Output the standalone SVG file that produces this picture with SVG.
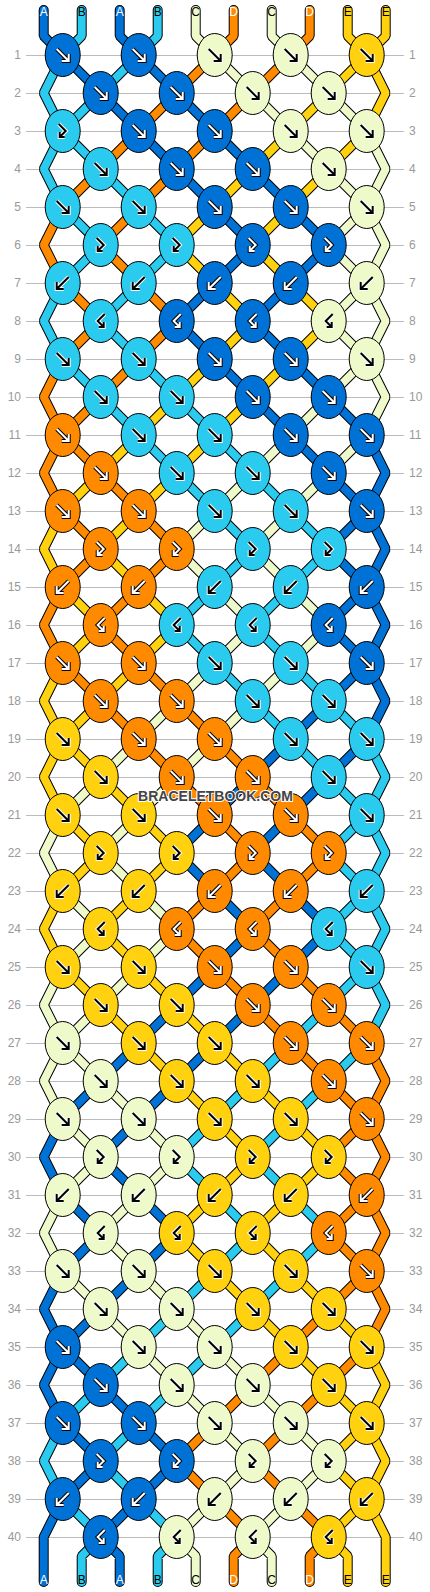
<svg xmlns="http://www.w3.org/2000/svg" xmlns:xlink="http://www.w3.org/1999/xlink" width="430" height="1592" viewBox="0 0 430 1592">
<style>
.o{fill:none;stroke:#000;stroke-width:10;stroke-linecap:round;stroke-linejoin:bevel}
.f{fill:none;stroke-width:8;stroke-linecap:round;stroke-linejoin:bevel}
.A{stroke:#0072D5}.B{stroke:#2BCBEF}.C{stroke:#EFFACB}.D{stroke:#FF8A00}.E{stroke:#FFD10F}
.rl{fill:none;stroke:#bbb;stroke-width:1}
.nl{font-family:"Liberation Sans",Arial,sans-serif;font-size:12px;fill:#999;text-anchor:end}
.nr{font-family:"Liberation Sans",Arial,sans-serif;font-size:12px;fill:#999;text-anchor:start}
.lb{font-family:"Liberation Sans",Arial,sans-serif;font-size:12px;text-anchor:middle}
.wt{fill:#fff}.bt{fill:#000}
</style>
<defs>
<ellipse id="e" rx="17.5" ry="21.5" stroke="#000" stroke-width="1"/>
<path id="pF" d="M-6,-6L6,6M6,-1V6H-1" fill="none"/>
<path id="pB" d="M6,-6L-6,6M-6,-1V6H1" fill="none"/>
<path id="pX" d="M-4,-7L3,0L-3,6M-3,1V6H2" fill="none"/>
<path id="pY" d="M4,-7L-3,0L3,6M3,1V6H-2" fill="none"/>
<g id="wF"><use href="#pF" stroke="#000" stroke-width="4"/><use href="#pF" stroke="#fff" stroke-width="2"/></g>
<g id="wB"><use href="#pB" stroke="#000" stroke-width="4"/><use href="#pB" stroke="#fff" stroke-width="2"/></g>
<g id="wX"><use href="#pX" stroke="#000" stroke-width="4"/><use href="#pX" stroke="#fff" stroke-width="2"/></g>
<g id="wY"><use href="#pY" stroke="#000" stroke-width="4"/><use href="#pY" stroke="#fff" stroke-width="2"/></g>
<g id="kF"><use href="#pF" stroke="#fff" stroke-width="4"/><use href="#pF" stroke="#000" stroke-width="2"/></g>
<g id="kB"><use href="#pB" stroke="#fff" stroke-width="4"/><use href="#pB" stroke="#000" stroke-width="2"/></g>
<g id="kX"><use href="#pX" stroke="#fff" stroke-width="4"/><use href="#pX" stroke="#000" stroke-width="2"/></g>
<g id="kY"><use href="#pY" stroke="#fff" stroke-width="4"/><use href="#pY" stroke="#000" stroke-width="2"/></g>
<g id="AF"><use href="#e" fill="#0072D5"/><use href="#wF"/></g>
<g id="AB"><use href="#e" fill="#0072D5"/><use href="#wB"/></g>
<g id="AX"><use href="#e" fill="#0072D5"/><use href="#wX"/></g>
<g id="AY"><use href="#e" fill="#0072D5"/><use href="#wY"/></g>
<g id="BF"><use href="#e" fill="#2BCBEF"/><use href="#kF"/></g>
<g id="BB"><use href="#e" fill="#2BCBEF"/><use href="#kB"/></g>
<g id="BX"><use href="#e" fill="#2BCBEF"/><use href="#kX"/></g>
<g id="BY"><use href="#e" fill="#2BCBEF"/><use href="#kY"/></g>
<g id="CF"><use href="#e" fill="#EFFACB"/><use href="#kF"/></g>
<g id="CB"><use href="#e" fill="#EFFACB"/><use href="#kB"/></g>
<g id="CX"><use href="#e" fill="#EFFACB"/><use href="#kX"/></g>
<g id="CY"><use href="#e" fill="#EFFACB"/><use href="#kY"/></g>
<g id="DF"><use href="#e" fill="#FF8A00"/><use href="#wF"/></g>
<g id="DB"><use href="#e" fill="#FF8A00"/><use href="#wB"/></g>
<g id="DX"><use href="#e" fill="#FF8A00"/><use href="#wX"/></g>
<g id="DY"><use href="#e" fill="#FF8A00"/><use href="#wY"/></g>
<g id="EF"><use href="#e" fill="#FFD10F"/><use href="#kF"/></g>
<g id="EB"><use href="#e" fill="#FFD10F"/><use href="#kB"/></g>
<g id="EX"><use href="#e" fill="#FFD10F"/><use href="#kX"/></g>
<g id="EY"><use href="#e" fill="#FFD10F"/><use href="#kY"/></g>
<path id="s0" d="M-19,-45v26l19,19 38,38 38,38 38,38 38,38 38,38 -38,38 -38,38 38,38 38,38 38,38 38,38 38,38 19,38 -19,38 -38,38 38,38 19,38 -19,38 -38,38 -38,38 -38,38 38,38 38,38 -38,38 -38,38 -38,38 -38,38 -38,38 -38,38 38,38 38,38 -38,38 -38,38 -38,38 -19,38 19,38 38,38 -38,38 -19,38v45"/>
<path id="s1" d="M19,-45v26l-19,19 -19,38 19,38 -19,38 19,38 38,38 -38,38 -19,38 19,38 38,38 38,38 38,38 38,38 38,38 -38,38 -38,38 38,38 38,38 38,38 38,38 38,38 19,38 -19,38 -38,38 38,38 19,38 -19,38 -38,38 -38,38 -38,38 38,38 38,38 -38,38 -38,38 -38,38 -38,38 -38,38 -38,38 38,38 38,38 -19,19v26"/>
<path id="s2" d="M57,-45v26l19,19 38,38 38,38 38,38 38,38 38,38 -38,38 -38,38 38,38 38,38 38,38 19,38 -19,38 -38,38 38,38 19,38 -19,38 -38,38 -38,38 -38,38 -38,38 -38,38 38,38 38,38 -38,38 -38,38 -38,38 -38,38 -38,38 -19,38 19,38 38,38 -38,38 -19,38 19,38 38,38 38,38 38,38 -38,38 -38,38 19,19v26"/>
<path id="s3" d="M95,-45v26l-19,19 -38,38 -38,38 38,38 38,38 38,38 -38,38 -38,38 38,38 38,38 38,38 38,38 38,38 38,38 -38,38 -38,38 38,38 38,38 38,38 19,38 -19,38 -38,38 38,38 19,38 -19,38 -38,38 -38,38 -38,38 -38,38 -38,38 38,38 38,38 -38,38 -38,38 -38,38 -38,38 -38,38 -19,38 19,38 38,38 -19,19v26"/>
<path id="s4" d="M133,-45v26l19,19 38,38 38,38 38,38 38,38 19,38 -19,38 -38,38 38,38 19,38 -19,38 -38,38 -38,38 -38,38 38,38 38,38 -38,38 -38,38 -38,38 -38,38 -38,38 -38,38 38,38 38,38 -38,38 -38,38 -38,38 -19,38 19,38 38,38 -38,38 -19,38 19,38 38,38 38,38 38,38 38,38 38,38 -38,38 -38,38 19,19v26"/>
<path id="s5" d="M171,-45v26l-19,19 -38,38 -38,38 -38,38 -38,38 -19,38 19,38 38,38 -38,38 -19,38 19,38 38,38 38,38 38,38 -38,38 -38,38 38,38 38,38 38,38 38,38 38,38 38,38 -38,38 -38,38 38,38 38,38 38,38 19,38 -19,38 -38,38 38,38 19,38 -19,38 -38,38 -38,38 -38,38 -38,38 -38,38 38,38 38,38 -19,19v26"/>
<path id="s6" d="M209,-45v26l19,19 38,38 38,38 19,38 -19,38 -38,38 38,38 19,38 -19,38 -38,38 -38,38 -38,38 -38,38 -38,38 38,38 38,38 -38,38 -38,38 -38,38 -38,38 -38,38 -19,38 19,38 38,38 -38,38 -19,38 19,38 38,38 38,38 38,38 -38,38 -38,38 38,38 38,38 38,38 38,38 38,38 38,38 -38,38 -38,38 19,19v26"/>
<path id="s7" d="M247,-45v26l-19,19 -38,38 -38,38 -38,38 -38,38 -38,38 38,38 38,38 -38,38 -38,38 -38,38 -19,38 19,38 38,38 -38,38 -19,38 19,38 38,38 38,38 38,38 38,38 38,38 -38,38 -38,38 38,38 38,38 38,38 38,38 38,38 19,38 -19,38 -38,38 38,38 19,38 -19,38 -38,38 -38,38 -38,38 38,38 38,38 -19,19v26"/>
<path id="s8" d="M285,-45v26l19,19 19,38 -19,38 -38,38 -38,38 -38,38 38,38 38,38 -38,38 -38,38 -38,38 -38,38 -38,38 -38,38 38,38 38,38 -38,38 -38,38 -38,38 -19,38 19,38 38,38 -38,38 -19,38 19,38 38,38 38,38 38,38 38,38 38,38 -38,38 -38,38 38,38 38,38 38,38 38,38 38,38 19,38 -19,38 -38,38 19,19v26"/>
<path id="s9" d="M323,-45v26l-19,19 -38,38 -38,38 -38,38 -38,38 -38,38 38,38 38,38 -38,38 -38,38 -38,38 -38,38 -38,38 -19,38 19,38 38,38 -38,38 -19,38 19,38 38,38 38,38 38,38 -38,38 -38,38 38,38 38,38 38,38 38,38 38,38 38,38 -38,38 -38,38 38,38 38,38 38,38 19,38 -19,38 -38,38 38,38 19,38v45"/>
</defs>
<rect width="430" height="1592" fill="#fff"/>
<g id="grid">
<path class="rl" d="M26,55.5H404M26,93.5H404M26,131.5H404M26,169.5H404M26,207.5H404M26,245.5H404M26,283.5H404M26,321.5H404M26,359.5H404M26,397.5H404M26,435.5H404M26,473.5H404M26,511.5H404M26,549.5H404M26,587.5H404M26,625.5H404M26,663.5H404M26,701.5H404M26,739.5H404M26,777.5H404M26,815.5H404M26,853.5H404M26,891.5H404M26,929.5H404M26,967.5H404M26,1005.5H404M26,1043.5H404M26,1081.5H404M26,1119.5H404M26,1157.5H404M26,1195.5H404M26,1233.5H404M26,1271.5H404M26,1309.5H404M26,1347.5H404M26,1385.5H404M26,1423.5H404M26,1461.5H404M26,1499.5H404M26,1537.5H404"/>
</g>
<g id="rownums-left" class="nl">
<text x="21" y="59">1</text><text x="21" y="97">2</text><text x="21" y="135">3</text><text x="21" y="173">4</text><text x="21" y="211">5</text><text x="21" y="249">6</text><text x="21" y="287">7</text><text x="21" y="325">8</text><text x="21" y="363">9</text><text x="21" y="401">10</text><text x="21" y="439">11</text><text x="21" y="477">12</text><text x="21" y="515">13</text><text x="21" y="553">14</text><text x="21" y="591">15</text><text x="21" y="629">16</text><text x="21" y="667">17</text><text x="21" y="705">18</text><text x="21" y="743">19</text><text x="21" y="781">20</text><text x="21" y="819">21</text><text x="21" y="857">22</text><text x="21" y="895">23</text><text x="21" y="933">24</text><text x="21" y="971">25</text><text x="21" y="1009">26</text><text x="21" y="1047">27</text><text x="21" y="1085">28</text><text x="21" y="1123">29</text><text x="21" y="1161">30</text><text x="21" y="1199">31</text><text x="21" y="1237">32</text><text x="21" y="1275">33</text><text x="21" y="1313">34</text><text x="21" y="1351">35</text><text x="21" y="1389">36</text><text x="21" y="1427">37</text><text x="21" y="1465">38</text><text x="21" y="1503">39</text><text x="21" y="1541">40</text>
</g>
<g id="rownums-right" class="nr">
<text x="409" y="59">1</text><text x="409" y="97">2</text><text x="409" y="135">3</text><text x="409" y="173">4</text><text x="409" y="211">5</text><text x="409" y="249">6</text><text x="409" y="287">7</text><text x="409" y="325">8</text><text x="409" y="363">9</text><text x="409" y="401">10</text><text x="409" y="439">11</text><text x="409" y="477">12</text><text x="409" y="515">13</text><text x="409" y="553">14</text><text x="409" y="591">15</text><text x="409" y="629">16</text><text x="409" y="667">17</text><text x="409" y="705">18</text><text x="409" y="743">19</text><text x="409" y="781">20</text><text x="409" y="819">21</text><text x="409" y="857">22</text><text x="409" y="895">23</text><text x="409" y="933">24</text><text x="409" y="971">25</text><text x="409" y="1009">26</text><text x="409" y="1047">27</text><text x="409" y="1085">28</text><text x="409" y="1123">29</text><text x="409" y="1161">30</text><text x="409" y="1199">31</text><text x="409" y="1237">32</text><text x="409" y="1275">33</text><text x="409" y="1313">34</text><text x="409" y="1351">35</text><text x="409" y="1389">36</text><text x="409" y="1427">37</text><text x="409" y="1465">38</text><text x="409" y="1503">39</text><text x="409" y="1541">40</text>
</g>
<g id="strings" transform="translate(62.7 55)">
<use href="#s0" class="o"/><use href="#s0" class="f A"/>
<use href="#s1" class="o"/><use href="#s1" class="f B"/>
<use href="#s2" class="o"/><use href="#s2" class="f A"/>
<use href="#s3" class="o"/><use href="#s3" class="f B"/>
<use href="#s4" class="o"/><use href="#s4" class="f C"/>
<use href="#s5" class="o"/><use href="#s5" class="f D"/>
<use href="#s6" class="o"/><use href="#s6" class="f C"/>
<use href="#s7" class="o"/><use href="#s7" class="f D"/>
<use href="#s8" class="o"/><use href="#s8" class="f E"/>
<use href="#s9" class="o"/><use href="#s9" class="f E"/>
</g>
<g id="labels-top" class="lb">
<text x="43.7" y="16" class="wt">A</text><text x="81.7" y="16" class="bt">B</text><text x="119.7" y="16" class="wt">A</text><text x="157.7" y="16" class="bt">B</text><text x="195.7" y="16" class="bt">C</text><text x="233.7" y="16" class="wt">D</text><text x="271.7" y="16" class="bt">C</text><text x="309.7" y="16" class="wt">D</text><text x="347.7" y="16" class="bt">E</text><text x="385.7" y="16" class="bt">E</text>
</g>
<g id="labels-bottom" class="lb">
<text x="43.7" y="1584" class="wt">A</text><text x="81.7" y="1584" class="bt">B</text><text x="119.7" y="1584" class="wt">A</text><text x="157.7" y="1584" class="bt">B</text><text x="195.7" y="1584" class="bt">C</text><text x="233.7" y="1584" class="wt">D</text><text x="271.7" y="1584" class="bt">C</text><text x="309.7" y="1584" class="wt">D</text><text x="347.7" y="1584" class="bt">E</text><text x="385.7" y="1584" class="bt">E</text>
</g>
<g id="knots" transform="translate(62.7 55)">
<g id="k1-1"><use href="#AF" x="0" y="0"/></g><g id="k1-2"><use href="#AF" x="76" y="0"/></g><g id="k1-3"><use href="#CF" x="152" y="0"/></g><g id="k1-4"><use href="#CF" x="228" y="0"/></g><g id="k1-5"><use href="#EF" x="304" y="0"/></g>
<g id="k2-1"><use href="#AF" x="38" y="38"/></g><g id="k2-2"><use href="#AF" x="114" y="38"/></g><g id="k2-3"><use href="#CF" x="190" y="38"/></g><g id="k2-4"><use href="#CF" x="266" y="38"/></g>
<g id="k3-1"><use href="#BX" x="0" y="76"/></g><g id="k3-2"><use href="#AF" x="76" y="76"/></g><g id="k3-3"><use href="#AF" x="152" y="76"/></g><g id="k3-4"><use href="#CF" x="228" y="76"/></g><g id="k3-5"><use href="#CF" x="304" y="76"/></g>
<g id="k4-1"><use href="#BF" x="38" y="114"/></g><g id="k4-2"><use href="#AF" x="114" y="114"/></g><g id="k4-3"><use href="#AF" x="190" y="114"/></g><g id="k4-4"><use href="#CF" x="266" y="114"/></g>
<g id="k5-1"><use href="#BF" x="0" y="152"/></g><g id="k5-2"><use href="#BF" x="76" y="152"/></g><g id="k5-3"><use href="#AF" x="152" y="152"/></g><g id="k5-4"><use href="#AF" x="228" y="152"/></g><g id="k5-5"><use href="#CF" x="304" y="152"/></g>
<g id="k6-1"><use href="#BX" x="38" y="190"/></g><g id="k6-2"><use href="#BX" x="114" y="190"/></g><g id="k6-3"><use href="#AX" x="190" y="190"/></g><g id="k6-4"><use href="#AX" x="266" y="190"/></g>
<g id="k7-1"><use href="#BB" x="0" y="228"/></g><g id="k7-2"><use href="#BB" x="76" y="228"/></g><g id="k7-3"><use href="#AB" x="152" y="228"/></g><g id="k7-4"><use href="#AB" x="228" y="228"/></g><g id="k7-5"><use href="#CB" x="304" y="228"/></g>
<g id="k8-1"><use href="#BY" x="38" y="266"/></g><g id="k8-2"><use href="#AY" x="114" y="266"/></g><g id="k8-3"><use href="#AY" x="190" y="266"/></g><g id="k8-4"><use href="#CY" x="266" y="266"/></g>
<g id="k9-1"><use href="#BF" x="0" y="304"/></g><g id="k9-2"><use href="#BF" x="76" y="304"/></g><g id="k9-3"><use href="#AF" x="152" y="304"/></g><g id="k9-4"><use href="#AF" x="228" y="304"/></g><g id="k9-5"><use href="#CF" x="304" y="304"/></g>
<g id="k10-1"><use href="#BF" x="38" y="342"/></g><g id="k10-2"><use href="#BF" x="114" y="342"/></g><g id="k10-3"><use href="#AF" x="190" y="342"/></g><g id="k10-4"><use href="#AF" x="266" y="342"/></g>
<g id="k11-1"><use href="#DF" x="0" y="380"/></g><g id="k11-2"><use href="#BF" x="76" y="380"/></g><g id="k11-3"><use href="#BF" x="152" y="380"/></g><g id="k11-4"><use href="#AF" x="228" y="380"/></g><g id="k11-5"><use href="#AF" x="304" y="380"/></g>
<g id="k12-1"><use href="#DF" x="38" y="418"/></g><g id="k12-2"><use href="#BF" x="114" y="418"/></g><g id="k12-3"><use href="#BF" x="190" y="418"/></g><g id="k12-4"><use href="#AF" x="266" y="418"/></g>
<g id="k13-1"><use href="#DF" x="0" y="456"/></g><g id="k13-2"><use href="#DF" x="76" y="456"/></g><g id="k13-3"><use href="#BF" x="152" y="456"/></g><g id="k13-4"><use href="#BF" x="228" y="456"/></g><g id="k13-5"><use href="#AF" x="304" y="456"/></g>
<g id="k14-1"><use href="#DX" x="38" y="494"/></g><g id="k14-2"><use href="#DX" x="114" y="494"/></g><g id="k14-3"><use href="#BX" x="190" y="494"/></g><g id="k14-4"><use href="#BX" x="266" y="494"/></g>
<g id="k15-1"><use href="#DB" x="0" y="532"/></g><g id="k15-2"><use href="#DB" x="76" y="532"/></g><g id="k15-3"><use href="#BB" x="152" y="532"/></g><g id="k15-4"><use href="#BB" x="228" y="532"/></g><g id="k15-5"><use href="#AB" x="304" y="532"/></g>
<g id="k16-1"><use href="#DY" x="38" y="570"/></g><g id="k16-2"><use href="#BY" x="114" y="570"/></g><g id="k16-3"><use href="#BY" x="190" y="570"/></g><g id="k16-4"><use href="#AY" x="266" y="570"/></g>
<g id="k17-1"><use href="#DF" x="0" y="608"/></g><g id="k17-2"><use href="#DF" x="76" y="608"/></g><g id="k17-3"><use href="#BF" x="152" y="608"/></g><g id="k17-4"><use href="#BF" x="228" y="608"/></g><g id="k17-5"><use href="#AF" x="304" y="608"/></g>
<g id="k18-1"><use href="#DF" x="38" y="646"/></g><g id="k18-2"><use href="#DF" x="114" y="646"/></g><g id="k18-3"><use href="#BF" x="190" y="646"/></g><g id="k18-4"><use href="#BF" x="266" y="646"/></g>
<g id="k19-1"><use href="#EF" x="0" y="684"/></g><g id="k19-2"><use href="#DF" x="76" y="684"/></g><g id="k19-3"><use href="#DF" x="152" y="684"/></g><g id="k19-4"><use href="#BF" x="228" y="684"/></g><g id="k19-5"><use href="#BF" x="304" y="684"/></g>
<g id="k20-1"><use href="#EF" x="38" y="722"/></g><g id="k20-2"><use href="#DF" x="114" y="722"/></g><g id="k20-3"><use href="#DF" x="190" y="722"/></g><g id="k20-4"><use href="#BF" x="266" y="722"/></g>
<g id="k21-1"><use href="#EF" x="0" y="760"/></g><g id="k21-2"><use href="#EF" x="76" y="760"/></g><g id="k21-3"><use href="#DF" x="152" y="760"/></g><g id="k21-4"><use href="#DF" x="228" y="760"/></g><g id="k21-5"><use href="#BF" x="304" y="760"/></g>
<g id="k22-1"><use href="#EX" x="38" y="798"/></g><g id="k22-2"><use href="#EX" x="114" y="798"/></g><g id="k22-3"><use href="#DX" x="190" y="798"/></g><g id="k22-4"><use href="#DX" x="266" y="798"/></g>
<g id="k23-1"><use href="#EB" x="0" y="836"/></g><g id="k23-2"><use href="#EB" x="76" y="836"/></g><g id="k23-3"><use href="#DB" x="152" y="836"/></g><g id="k23-4"><use href="#DB" x="228" y="836"/></g><g id="k23-5"><use href="#BB" x="304" y="836"/></g>
<g id="k24-1"><use href="#EY" x="38" y="874"/></g><g id="k24-2"><use href="#DY" x="114" y="874"/></g><g id="k24-3"><use href="#DY" x="190" y="874"/></g><g id="k24-4"><use href="#BY" x="266" y="874"/></g>
<g id="k25-1"><use href="#EF" x="0" y="912"/></g><g id="k25-2"><use href="#EF" x="76" y="912"/></g><g id="k25-3"><use href="#DF" x="152" y="912"/></g><g id="k25-4"><use href="#DF" x="228" y="912"/></g><g id="k25-5"><use href="#BF" x="304" y="912"/></g>
<g id="k26-1"><use href="#EF" x="38" y="950"/></g><g id="k26-2"><use href="#EF" x="114" y="950"/></g><g id="k26-3"><use href="#DF" x="190" y="950"/></g><g id="k26-4"><use href="#DF" x="266" y="950"/></g>
<g id="k27-1"><use href="#CF" x="0" y="988"/></g><g id="k27-2"><use href="#EF" x="76" y="988"/></g><g id="k27-3"><use href="#EF" x="152" y="988"/></g><g id="k27-4"><use href="#DF" x="228" y="988"/></g><g id="k27-5"><use href="#DF" x="304" y="988"/></g>
<g id="k28-1"><use href="#CF" x="38" y="1026"/></g><g id="k28-2"><use href="#EF" x="114" y="1026"/></g><g id="k28-3"><use href="#EF" x="190" y="1026"/></g><g id="k28-4"><use href="#DF" x="266" y="1026"/></g>
<g id="k29-1"><use href="#CF" x="0" y="1064"/></g><g id="k29-2"><use href="#CF" x="76" y="1064"/></g><g id="k29-3"><use href="#EF" x="152" y="1064"/></g><g id="k29-4"><use href="#EF" x="228" y="1064"/></g><g id="k29-5"><use href="#DF" x="304" y="1064"/></g>
<g id="k30-1"><use href="#CX" x="38" y="1102"/></g><g id="k30-2"><use href="#CX" x="114" y="1102"/></g><g id="k30-3"><use href="#EX" x="190" y="1102"/></g><g id="k30-4"><use href="#EX" x="266" y="1102"/></g>
<g id="k31-1"><use href="#CB" x="0" y="1140"/></g><g id="k31-2"><use href="#CB" x="76" y="1140"/></g><g id="k31-3"><use href="#EB" x="152" y="1140"/></g><g id="k31-4"><use href="#EB" x="228" y="1140"/></g><g id="k31-5"><use href="#DB" x="304" y="1140"/></g>
<g id="k32-1"><use href="#CY" x="38" y="1178"/></g><g id="k32-2"><use href="#EY" x="114" y="1178"/></g><g id="k32-3"><use href="#EY" x="190" y="1178"/></g><g id="k32-4"><use href="#DY" x="266" y="1178"/></g>
<g id="k33-1"><use href="#CF" x="0" y="1216"/></g><g id="k33-2"><use href="#CF" x="76" y="1216"/></g><g id="k33-3"><use href="#EF" x="152" y="1216"/></g><g id="k33-4"><use href="#EF" x="228" y="1216"/></g><g id="k33-5"><use href="#DF" x="304" y="1216"/></g>
<g id="k34-1"><use href="#CF" x="38" y="1254"/></g><g id="k34-2"><use href="#CF" x="114" y="1254"/></g><g id="k34-3"><use href="#EF" x="190" y="1254"/></g><g id="k34-4"><use href="#EF" x="266" y="1254"/></g>
<g id="k35-1"><use href="#AF" x="0" y="1292"/></g><g id="k35-2"><use href="#CF" x="76" y="1292"/></g><g id="k35-3"><use href="#CF" x="152" y="1292"/></g><g id="k35-4"><use href="#EF" x="228" y="1292"/></g><g id="k35-5"><use href="#EF" x="304" y="1292"/></g>
<g id="k36-1"><use href="#AF" x="38" y="1330"/></g><g id="k36-2"><use href="#CF" x="114" y="1330"/></g><g id="k36-3"><use href="#CF" x="190" y="1330"/></g><g id="k36-4"><use href="#EF" x="266" y="1330"/></g>
<g id="k37-1"><use href="#AF" x="0" y="1368"/></g><g id="k37-2"><use href="#AF" x="76" y="1368"/></g><g id="k37-3"><use href="#CF" x="152" y="1368"/></g><g id="k37-4"><use href="#CF" x="228" y="1368"/></g><g id="k37-5"><use href="#EF" x="304" y="1368"/></g>
<g id="k38-1"><use href="#AX" x="38" y="1406"/></g><g id="k38-2"><use href="#AX" x="114" y="1406"/></g><g id="k38-3"><use href="#CX" x="190" y="1406"/></g><g id="k38-4"><use href="#CX" x="266" y="1406"/></g>
<g id="k39-1"><use href="#AB" x="0" y="1444"/></g><g id="k39-2"><use href="#AB" x="76" y="1444"/></g><g id="k39-3"><use href="#CB" x="152" y="1444"/></g><g id="k39-4"><use href="#CB" x="228" y="1444"/></g><g id="k39-5"><use href="#EB" x="304" y="1444"/></g>
<g id="k40-1"><use href="#AY" x="38" y="1482"/></g><g id="k40-2"><use href="#CY" x="114" y="1482"/></g><g id="k40-3"><use href="#CY" x="190" y="1482"/></g><g id="k40-4"><use href="#EY" x="266" y="1482"/></g>
</g>
<text id="watermark" x="215.5" y="800.5" font-family="'Liberation Sans',Arial,sans-serif" font-weight="bold" font-size="14" text-anchor="middle" fill="#444" stroke="#fff" stroke-width="2" paint-order="stroke">BRACELETBOOK.COM</text>
</svg>
